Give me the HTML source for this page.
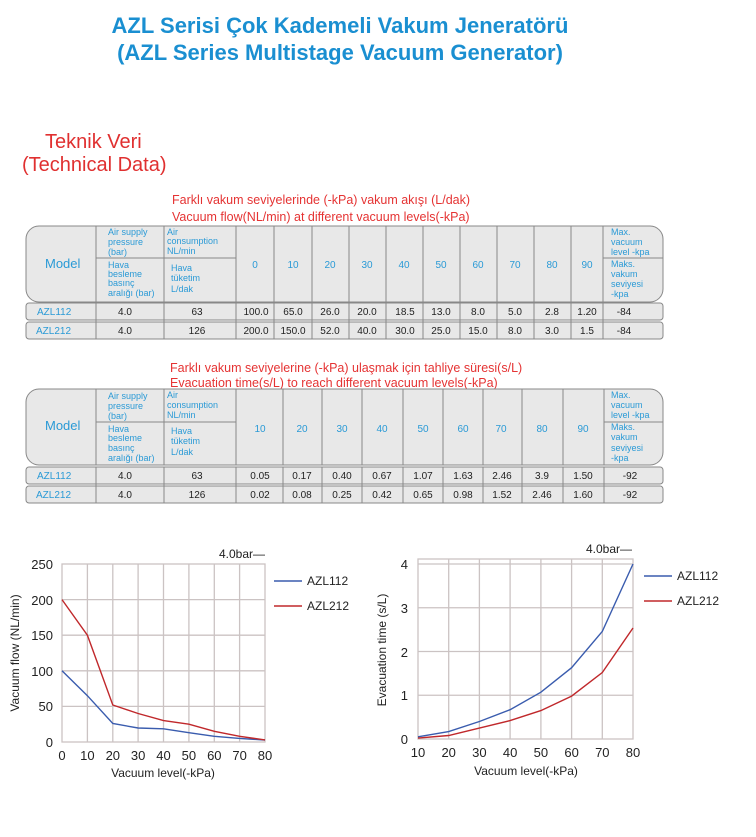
<!DOCTYPE html>
<html><head><meta charset="utf-8"><style>
html,body{margin:0;padding:0;background:#fff;}
svg{display:block;}
text{font-family:"Liberation Sans",Arial,sans-serif;}
.h{fill:#2a9ad6;font-size:9px;}
.hc{fill:#2a9ad6;font-size:10px;text-anchor:middle;}
.d{fill:#222;font-size:10px;text-anchor:middle;}
.m{fill:#2a9ad6;font-size:10px;}
.r{fill:#e53333;font-size:12.5px;}
.t{fill:#222;font-size:13px;}
.g{stroke:#cbc3c3;stroke-width:1.3;fill:none;}
</style></head><body>
<svg width="756" height="837" viewBox="0 0 756 837" xmlns="http://www.w3.org/2000/svg">
<text x="340" y="33" text-anchor="middle" style="fill:#1a8fd1;font-size:22px;font-weight:bold">AZL Serisi Çok Kademeli Vakum Jeneratörü</text>
<text x="340" y="60" text-anchor="middle" style="fill:#1a8fd1;font-size:22px;font-weight:bold">(AZL Series Multistage Vacuum Generator)</text>
<text x="45" y="148" style="fill:#e03030;font-size:20px">Teknik Veri</text>
<text x="22" y="171" style="fill:#e03030;font-size:20px">(Technical Data)</text>

<!-- TABLE 1 -->
<text x="172" y="204" class="r">Farklı vakum seviyelerinde (-kPa) vakum akışı (L/dak)</text>
<text x="172" y="221" class="r">Vacuum flow(NL/min) at different vacuum levels(-kPa)</text>
<rect x="26" y="226" width="637" height="76" rx="13" fill="#e8e8e8" stroke="#888"/>
<g stroke="#888">
<line x1="96" y1="226" x2="96" y2="302"/><line x1="164" y1="226" x2="164" y2="302"/><line x1="236" y1="226" x2="236" y2="302"/>
<line x1="274" y1="226" x2="274" y2="302"/><line x1="312" y1="226" x2="312" y2="302"/><line x1="349" y1="226" x2="349" y2="302"/>
<line x1="386" y1="226" x2="386" y2="302"/><line x1="423" y1="226" x2="423" y2="302"/><line x1="460" y1="226" x2="460" y2="302"/>
<line x1="497" y1="226" x2="497" y2="302"/><line x1="534" y1="226" x2="534" y2="302"/><line x1="571" y1="226" x2="571" y2="302"/>
<line x1="603" y1="226" x2="603" y2="302"/>
<line x1="96" y1="258" x2="236" y2="258"/><line x1="603" y1="258" x2="663" y2="258"/>
</g>
<text x="45" y="268" style="fill:#2a9ad6;font-size:13px">Model</text>
<text class="h"><tspan x="108" y="235">Air supply</tspan><tspan x="108" y="245">pressure</tspan><tspan x="108" y="255">(bar)</tspan></text>
<text class="h"><tspan x="108" y="268">Hava</tspan><tspan x="108" y="277">besleme</tspan><tspan x="108" y="286">basınç</tspan><tspan x="108" y="296">aralığı (bar)</tspan></text>
<text class="h"><tspan x="167" y="235">Air</tspan><tspan x="167" y="244">consumption</tspan><tspan x="167" y="254">NL/min</tspan></text>
<text class="h"><tspan x="171" y="271">Hava</tspan><tspan x="171" y="281">tüketim</tspan><tspan x="171" y="292">L/dak</tspan></text>
<text class="hc" y="268"><tspan x="255">0</tspan><tspan x="293">10</tspan><tspan x="330">20</tspan><tspan x="367">30</tspan><tspan x="404">40</tspan><tspan x="441">50</tspan><tspan x="478">60</tspan><tspan x="515">70</tspan><tspan x="552">80</tspan><tspan x="587">90</tspan></text>
<text class="h"><tspan x="611" y="235">Max.</tspan><tspan x="611" y="245">vacuum</tspan><tspan x="611" y="255">level -kpa</tspan><tspan x="611" y="267">Maks.</tspan><tspan x="611" y="277">vakum</tspan><tspan x="611" y="287">seviyesi</tspan><tspan x="611" y="297">-kpa</tspan></text>
<rect x="26" y="303" width="637" height="17" rx="3" fill="#e8e8e8" stroke="#888"/>
<rect x="26" y="322" width="637" height="17" rx="3" fill="#e8e8e8" stroke="#888"/>
<g stroke="#888">
<line x1="96" y1="303" x2="96" y2="339"/><line x1="164" y1="303" x2="164" y2="339"/><line x1="236" y1="303" x2="236" y2="339"/>
<line x1="274" y1="303" x2="274" y2="339"/><line x1="312" y1="303" x2="312" y2="339"/><line x1="349" y1="303" x2="349" y2="339"/>
<line x1="386" y1="303" x2="386" y2="339"/><line x1="423" y1="303" x2="423" y2="339"/><line x1="460" y1="303" x2="460" y2="339"/>
<line x1="497" y1="303" x2="497" y2="339"/><line x1="534" y1="303" x2="534" y2="339"/><line x1="571" y1="303" x2="571" y2="339"/>
<line x1="603" y1="303" x2="603" y2="339"/>
</g>
<text class="m" x="37" y="315">AZL112</text><text class="m" x="36" y="334">AZL212</text>
<text class="d" y="315"><tspan x="125">4.0</tspan><tspan x="197">63</tspan><tspan x="256">100.0</tspan><tspan x="293">65.0</tspan><tspan x="330">26.0</tspan><tspan x="367">20.0</tspan><tspan x="405">18.5</tspan><tspan x="441">13.0</tspan><tspan x="478">8.0</tspan><tspan x="515">5.0</tspan><tspan x="552">2.8</tspan><tspan x="587">1.20</tspan><tspan x="624">-84</tspan></text>
<text class="d" y="334"><tspan x="125">4.0</tspan><tspan x="197">126</tspan><tspan x="256">200.0</tspan><tspan x="293">150.0</tspan><tspan x="330">52.0</tspan><tspan x="367">40.0</tspan><tspan x="405">30.0</tspan><tspan x="441">25.0</tspan><tspan x="478">15.0</tspan><tspan x="515">8.0</tspan><tspan x="552">3.0</tspan><tspan x="587">1.5</tspan><tspan x="624">-84</tspan></text>

<!-- TABLE 2 -->
<text x="170" y="372" class="r">Farklı vakum seviyelerine (-kPa) ulaşmak için tahliye süresi(s/L)</text>
<text x="170" y="387" class="r">Evacuation time(s/L) to reach different vacuum levels(-kPa)</text>
<rect x="26" y="389" width="637" height="76" rx="13" fill="#e8e8e8" stroke="#888"/>
<g stroke="#888">
<line x1="96" y1="389" x2="96" y2="465"/><line x1="164" y1="389" x2="164" y2="465"/><line x1="236" y1="389" x2="236" y2="465"/>
<line x1="283" y1="389" x2="283" y2="465"/><line x1="322" y1="389" x2="322" y2="465"/><line x1="362" y1="389" x2="362" y2="465"/>
<line x1="403" y1="389" x2="403" y2="465"/><line x1="443" y1="389" x2="443" y2="465"/><line x1="483" y1="389" x2="483" y2="465"/>
<line x1="522" y1="389" x2="522" y2="465"/><line x1="563" y1="389" x2="563" y2="465"/><line x1="604" y1="389" x2="604" y2="465"/>
<line x1="96" y1="422" x2="236" y2="422"/><line x1="604" y1="422" x2="663" y2="422"/>
</g>
<text x="45" y="430" style="fill:#2a9ad6;font-size:13px">Model</text>
<text class="h"><tspan x="108" y="399">Air supply</tspan><tspan x="108" y="409">pressure</tspan><tspan x="108" y="419">(bar)</tspan></text>
<text class="h"><tspan x="108" y="432">Hava</tspan><tspan x="108" y="441">besleme</tspan><tspan x="108" y="451">basınç</tspan><tspan x="108" y="461">aralığı (bar)</tspan></text>
<text class="h"><tspan x="167" y="398">Air</tspan><tspan x="167" y="408">consumption</tspan><tspan x="167" y="418">NL/min</tspan></text>
<text class="h"><tspan x="171" y="434">Hava</tspan><tspan x="171" y="444">tüketim</tspan><tspan x="171" y="455">L/dak</tspan></text>
<text class="hc" y="432"><tspan x="260">10</tspan><tspan x="302">20</tspan><tspan x="342">30</tspan><tspan x="382">40</tspan><tspan x="423">50</tspan><tspan x="463">60</tspan><tspan x="501">70</tspan><tspan x="542">80</tspan><tspan x="583">90</tspan></text>
<text class="h"><tspan x="611" y="398">Max.</tspan><tspan x="611" y="408">vacuum</tspan><tspan x="611" y="418">level -kpa</tspan><tspan x="611" y="430">Maks.</tspan><tspan x="611" y="440">vakum</tspan><tspan x="611" y="451">seviyesi</tspan><tspan x="611" y="461">-kpa</tspan></text>
<rect x="26" y="467" width="637" height="17" rx="3" fill="#e8e8e8" stroke="#888"/>
<rect x="26" y="486" width="637" height="17" rx="3" fill="#e8e8e8" stroke="#888"/>
<g stroke="#888">
<line x1="96" y1="467" x2="96" y2="503"/><line x1="164" y1="467" x2="164" y2="503"/><line x1="236" y1="467" x2="236" y2="503"/>
<line x1="283" y1="467" x2="283" y2="503"/><line x1="322" y1="467" x2="322" y2="503"/><line x1="362" y1="467" x2="362" y2="503"/>
<line x1="403" y1="467" x2="403" y2="503"/><line x1="443" y1="467" x2="443" y2="503"/><line x1="483" y1="467" x2="483" y2="503"/>
<line x1="522" y1="467" x2="522" y2="503"/><line x1="563" y1="467" x2="563" y2="503"/><line x1="604" y1="467" x2="604" y2="503"/>
</g>
<text class="m" x="37" y="479">AZL112</text><text class="m" x="36" y="498">AZL212</text>
<text class="d" y="479"><tspan x="125">4.0</tspan><tspan x="197">63</tspan><tspan x="260">0.05</tspan><tspan x="302">0.17</tspan><tspan x="342">0.40</tspan><tspan x="382">0.67</tspan><tspan x="423">1.07</tspan><tspan x="463">1.63</tspan><tspan x="502">2.46</tspan><tspan x="542">3.9</tspan><tspan x="583">1.50</tspan><tspan x="630">-92</tspan></text>
<text class="d" y="498"><tspan x="125">4.0</tspan><tspan x="197">126</tspan><tspan x="260">0.02</tspan><tspan x="302">0.08</tspan><tspan x="342">0.25</tspan><tspan x="382">0.42</tspan><tspan x="423">0.65</tspan><tspan x="463">0.98</tspan><tspan x="502">1.52</tspan><tspan x="542">2.46</tspan><tspan x="583">1.60</tspan><tspan x="630">-92</tspan></text>

<!-- CHART 1 -->
<g class="g">
<rect x="62" y="564" width="203" height="178"/>
<line x1="87.4" y1="564" x2="87.4" y2="742"/><line x1="112.8" y1="564" x2="112.8" y2="742"/><line x1="138.1" y1="564" x2="138.1" y2="742"/><line x1="163.5" y1="564" x2="163.5" y2="742"/><line x1="188.9" y1="564" x2="188.9" y2="742"/><line x1="214.3" y1="564" x2="214.3" y2="742"/><line x1="239.6" y1="564" x2="239.6" y2="742"/>
<line x1="62" y1="599.6" x2="265" y2="599.6"/><line x1="62" y1="635.2" x2="265" y2="635.2"/><line x1="62" y1="670.8" x2="265" y2="670.8"/><line x1="62" y1="706.4" x2="265" y2="706.4"/>
</g>
<polyline fill="none" stroke="#3a5cae" stroke-width="1.4" points="62,670.8 87.4,695.7 112.8,723.5 138.1,728 163.5,728.8 188.9,732.7 214.3,736.3 239.6,738.4 265,740"/>
<polyline fill="none" stroke="#c0282b" stroke-width="1.4" points="62,599.6 87.4,635.2 112.8,705 138.1,713.5 163.5,720.6 188.9,724.2 214.3,731.3 239.6,736.3 265,739.9"/>
<g class="t" text-anchor="end"><text x="53" y="569">250</text><text x="53" y="605">200</text><text x="53" y="640">150</text><text x="53" y="676">100</text><text x="53" y="711">50</text><text x="53" y="747">0</text></g>
<g class="t" text-anchor="middle"><text x="62" y="760">0</text><text x="87.4" y="760">10</text><text x="112.8" y="760">20</text><text x="138.1" y="760">30</text><text x="163.5" y="760">40</text><text x="188.9" y="760">50</text><text x="214.3" y="760">60</text><text x="239.6" y="760">70</text><text x="265" y="760">80</text></g>
<text class="t" x="163" y="777" text-anchor="middle" style="font-size:12px">Vacuum level(-kPa)</text>
<text class="t" transform="translate(19,653) rotate(-90)" text-anchor="middle" style="font-size:12px">Vacuum flow (NL/min)</text>
<text class="t" x="265" y="558" text-anchor="end" style="font-size:12px">4.0bar—</text>
<line x1="274" y1="581" x2="302" y2="581" stroke="#3a5cae" stroke-width="1.5"/><text class="t" x="307" y="585" style="font-size:12px">AZL112</text>
<line x1="274" y1="606" x2="302" y2="606" stroke="#c0282b" stroke-width="1.5"/><text class="t" x="307" y="610" style="font-size:12px">AZL212</text>

<!-- CHART 2 -->
<g class="g">
<rect x="418" y="559" width="215" height="180"/>
<line x1="448.7" y1="559" x2="448.7" y2="739"/><line x1="479.4" y1="559" x2="479.4" y2="739"/><line x1="510.1" y1="559" x2="510.1" y2="739"/><line x1="540.9" y1="559" x2="540.9" y2="739"/><line x1="571.6" y1="559" x2="571.6" y2="739"/><line x1="602.3" y1="559" x2="602.3" y2="739"/>
<line x1="418" y1="564" x2="633" y2="564"/><line x1="418" y1="607.75" x2="633" y2="607.75"/><line x1="418" y1="651.5" x2="633" y2="651.5"/><line x1="418" y1="695.25" x2="633" y2="695.25"/>
</g>
<polyline fill="none" stroke="#3a5cae" stroke-width="1.4" points="418,736.8 448.7,731.6 479.4,721.5 510.1,709.7 540.9,692.2 571.6,667.7 602.3,631.4 633,564"/>
<polyline fill="none" stroke="#c0282b" stroke-width="1.4" points="418,738.1 448.7,735.5 479.4,728.1 510.1,720.6 540.9,710.6 571.6,696.1 602.3,672.5 633,628"/>
<g class="t" text-anchor="end"><text x="408" y="569">4</text><text x="408" y="613">3</text><text x="408" y="657">2</text><text x="408" y="700">1</text><text x="408" y="744">0</text></g>
<g class="t" text-anchor="middle"><text x="418" y="757">10</text><text x="448.7" y="757">20</text><text x="479.4" y="757">30</text><text x="510.1" y="757">40</text><text x="540.9" y="757">50</text><text x="571.6" y="757">60</text><text x="602.3" y="757">70</text><text x="633" y="757">80</text></g>
<text class="t" x="526" y="775" text-anchor="middle" style="font-size:12px">Vacuum level(-kPa)</text>
<text class="t" transform="translate(386,650) rotate(-90)" text-anchor="middle" style="font-size:12px">Evacuation time  (s/L)</text>
<text class="t" x="632" y="553" text-anchor="end" style="font-size:12px">4.0bar—</text>
<line x1="644" y1="576" x2="672" y2="576" stroke="#3a5cae" stroke-width="1.5"/><text class="t" x="677" y="580" style="font-size:12px">AZL112</text>
<line x1="644" y1="601" x2="672" y2="601" stroke="#c0282b" stroke-width="1.5"/><text class="t" x="677" y="605" style="font-size:12px">AZL212</text>
</svg>
</body></html>
